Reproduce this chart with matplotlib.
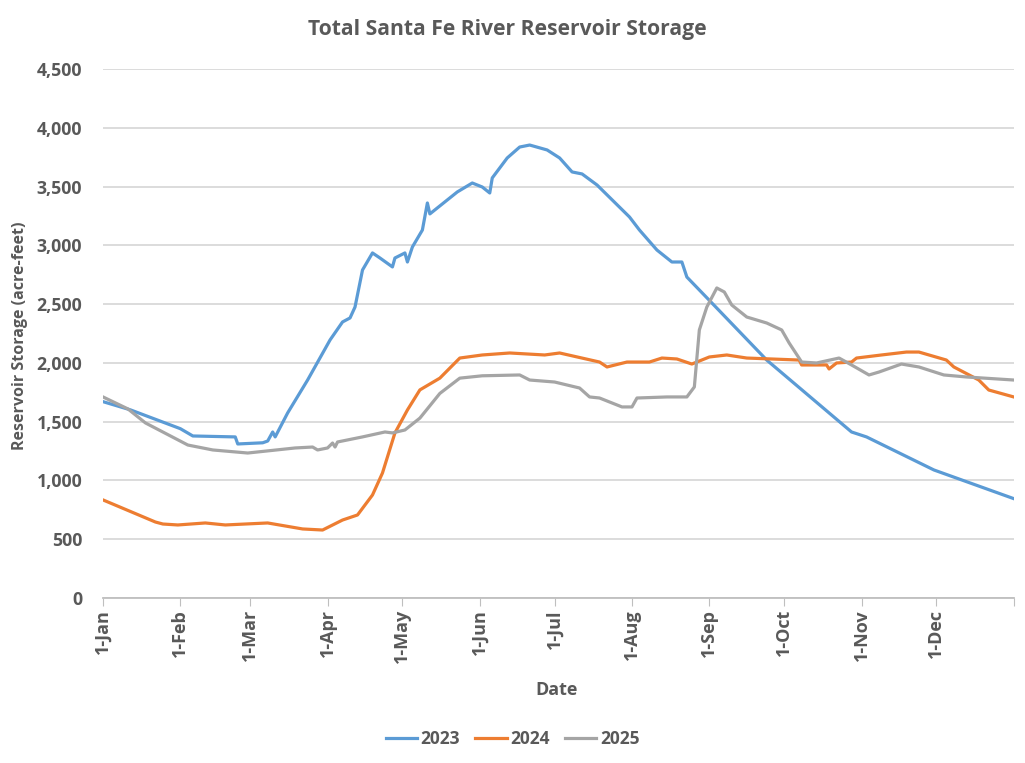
import matplotlib
matplotlib.use("Agg")
import matplotlib.pyplot as plt
from matplotlib.ticker import FuncFormatter

plt.rcParams['font.family'] = ['Open Sans', 'DejaVu Sans']

# Day of year (0 = 1-Jan) and storage (acre-feet)
days_2023 = [0, 11, 31, 36, 53, 54, 64, 66, 68, 69, 74, 82, 91, 96, 99, 101, 104, 108,
             111, 116, 117, 121, 122, 124, 128, 130, 131, 136, 142, 148, 152, 155, 156,
             162, 167, 171, 178, 183, 188, 192, 198, 211, 215, 222, 228, 232, 234, 244,
             266, 300, 306, 333, 365]
vals_2023 = [1670, 1600, 1440, 1378, 1370, 1310, 1320, 1335, 1412, 1370, 1574, 1854,
             2195, 2348, 2382, 2475, 2790, 2935, 2892, 2816, 2892, 2935, 2858, 2986,
             3130, 3360, 3267, 3352, 3454, 3530, 3496, 3445, 3573, 3743, 3836, 3853,
             3811, 3743, 3624, 3607, 3513, 3241, 3130, 2960, 2858, 2858, 2730, 2510,
             2024, 1412, 1370, 1089, 845]

days_2024 = [0, 21, 24, 30, 41, 49, 66, 80, 88, 96, 102, 108, 112, 117, 122, 127, 135,
             143, 152, 163, 177, 183, 199, 202, 210, 219, 224, 230, 236, 243, 250, 258,
             279, 280, 290, 291, 294, 300, 302, 312, 322, 327, 338, 341, 351, 355, 365]
vals_2024 = [834, 646, 629, 621, 638, 621, 638, 587, 578, 663, 706, 876, 1063, 1404,
             1599, 1770, 1870, 2041, 2067, 2084, 2067, 2084, 2007, 1965, 2007, 2007,
             2041, 2033, 1990, 2050, 2067, 2041, 2024, 1982, 1982, 1948, 1999, 2007,
             2041, 2067, 2092, 2092, 2024, 1965, 1854, 1769, 1710]

days_2025 = [0, 5, 10, 17, 34, 44, 58, 77, 84, 86, 90, 92, 93, 94, 104, 113, 116, 121,
             127, 135, 143, 152, 167, 171, 181, 191, 195, 199, 208, 212, 214, 226, 234,
             237, 239, 242, 246, 249, 252, 258, 266, 272, 275, 280, 286, 295, 300, 307,
             311, 320, 327, 337, 346, 365]
vals_2025 = [1710, 1659, 1608, 1489, 1301, 1259, 1233, 1276, 1284, 1259, 1276, 1318,
             1284, 1327, 1370, 1412, 1404, 1429, 1530, 1740, 1870, 1890, 1897, 1854,
             1837, 1786, 1710, 1701, 1625, 1625, 1701, 1710, 1710, 1795, 2280, 2475,
             2637, 2603, 2492, 2390, 2339, 2280, 2169, 2007, 1999, 2041, 1982, 1897,
             1922, 1990, 1965, 1897, 1880, 1854]

month_days = [0, 31, 59, 90, 120, 151, 181, 212, 243, 273, 304, 334]
month_labels = ['1-Jan', '1-Feb', '1-Mar', '1-Apr', '1-May', '1-Jun', '1-Jul',
                '1-Aug', '1-Sep', '1-Oct', '1-Nov', '1-Dec']
y_ticks = [0, 500, 1000, 1500, 2000, 2500, 3000, 3500, 4000, 4500]

txt = '#595959'
fig = plt.figure(figsize=(10.25, 7.63), dpi=100)
ax = fig.add_axes([0.1005, 0.2163, 0.8885, 0.6933])

lw = 2.3
ax.plot(days_2023, vals_2023, color='#5B9BD5', lw=lw, label='2023', solid_joinstyle='round')
ax.plot(days_2024, vals_2024, color='#ED7D31', lw=lw, label='2024', solid_joinstyle='round')
ax.plot(days_2025, vals_2025, color='#A5A5A5', lw=lw, label='2025', solid_joinstyle='round')

ax.set_xlim(0, 365)
ax.set_ylim(0, 4500)
ax.set_yticks(y_ticks)
ax.yaxis.set_major_formatter(FuncFormatter(lambda v, p: f'{int(v):,}'))
ax.set_xticks(month_days + [365])
ax.set_xticklabels(month_labels + [''], rotation=90)
ax.grid(axis='y', color='#d9d9d9', lw=1.3)
ax.set_axisbelow(True)
for s in ['top', 'right', 'left']:
    ax.spines[s].set_visible(False)
ax.spines['bottom'].set_color('#bfbfbf')
ax.spines['bottom'].set_linewidth(1.3)
ax.tick_params(axis='y', length=0, pad=15, labelsize=12.8, labelcolor=txt)
ax.tick_params(axis='x', length=6, color='#bfbfbf', pad=2, labelsize=13, labelcolor=txt)
for lab in ax.get_xticklabels() + ax.get_yticklabels():
    lab.set_fontweight('bold')

ax.set_ylabel('Reservoir Storage (acre-feet)', fontsize=11.5, fontweight='bold', color=txt)
ax.yaxis.set_label_coords(-0.082, 0.495)
ax.set_xlabel('Date', fontsize=13, fontweight='bold', color=txt)
ax.xaxis.set_label_coords(0.498, -0.157)
fig.text(0.495, 0.961, 'Total Santa Fe River Reservoir Storage', ha='center', va='center',
         fontsize=15.2, fontweight='bold', color=txt)

leg = fig.legend(loc='center', bbox_to_anchor=(0.5, 0.031), ncol=3, frameon=False,
                 fontsize=12.5, handlelength=1.8, handletextpad=0.2, columnspacing=0.9)
for t in leg.get_texts():
    t.set_color(txt)
    t.set_fontweight('bold')

fig.savefig('out.png', dpi=100, facecolor='white')
